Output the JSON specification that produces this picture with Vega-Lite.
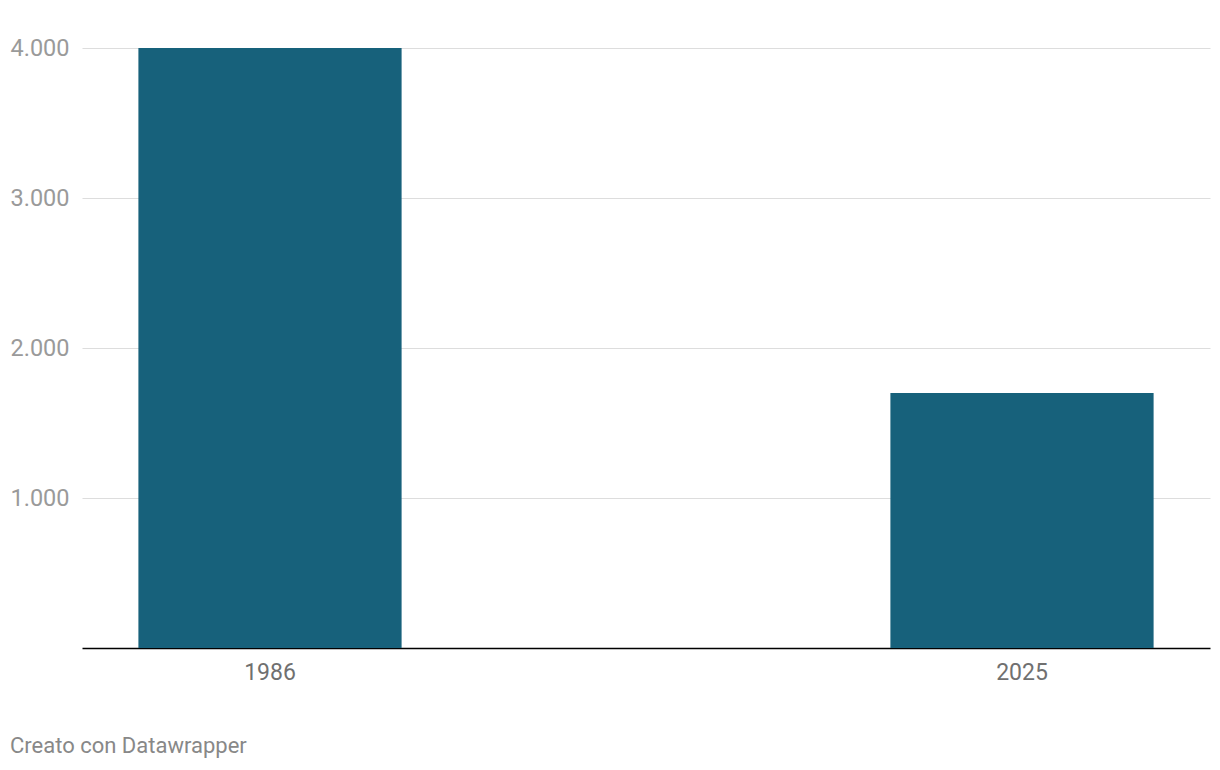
{
  "$schema": "https://vega.github.io/schema/vega-lite/v6.json",
  "autosize": {"type": "none"},
  "width": 1128,
  "height": 600,
  "padding": {"left": 82, "top": 48, "right": 10, "bottom": 122},
  "background": "white",
  "config": {"font": "Roboto", "view": {"stroke": null}},
  "data": {"values": [
    {"anno": "1986", "valore": 4000},
    {"anno": "2025", "valore": 1700}
  ]},
  "title": {
    "text": "Creato con Datawrapper",
    "orient": "bottom",
    "anchor": "start",
    "dx": 0,
    "offset": 52,
    "fontSize": 22,
    "fontWeight": "normal",
    "color": "#888888",
    "font": "Roboto"
  },
  "mark": {"type": "bar", "color": "#17617b"},
  "encoding": {
    "x": {
      "field": "anno",
      "type": "nominal",
      "scale": {"paddingInner": 0.65, "paddingOuter": 0.075},
      "axis": {
        "title": null,
        "labelAngle": 0,
        "labelFontSize": 23,
        "labelColor": "#707070",
        "labelPadding": 13,
        "ticks": false,
        "domainColor": "#000000",
        "domainWidth": 1.5,
        "grid": false
      }
    },
    "y": {
      "field": "valore",
      "type": "quantitative",
      "scale": {"domain": [0, 4000]},
      "axis": {
        "title": null,
        "values": [1000, 2000, 3000, 4000],
        "labelExpr": "replace(format(datum.value, ',.0f'), ',', '.')",
        "labelAlign": "left",
        "labelPadding": 72,
        "labelFontSize": 23.5,
        "labelColor": "#9a9a9a",
        "ticks": false,
        "domain": false,
        "grid": true,
        "gridColor": "#dddddd",
        "gridWidth": 1
      }
    }
  }
}
